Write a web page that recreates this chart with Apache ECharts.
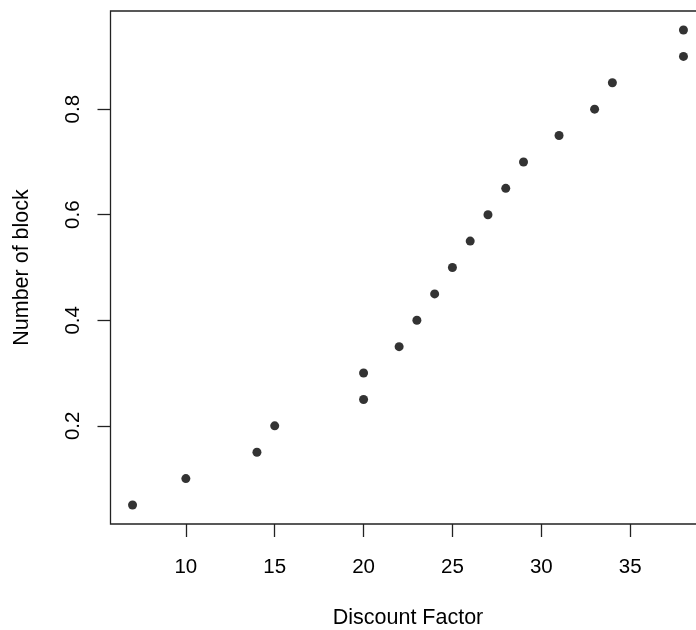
<!DOCTYPE html>
<html>
<head>
<meta charset="utf-8">
<script src="https://cdn.jsdelivr.net/npm/echarts@6/dist/echarts.min.js"></script>
<style>
  html, body { margin: 0; padding: 0; background: #fff; }
  #chart { width: 696px; height: 630px; }
</style>
</head>
<body>
<div id="chart"></div>
<script>
// Discount factor vs. number of block
const discountFactor = [7, 10, 14, 15, 20, 20, 22, 23, 24, 25, 26, 27, 28, 29, 31, 33, 34, 38, 38];
const numberOfBlock = [0.05, 0.10, 0.15, 0.20, 0.25, 0.30, 0.35, 0.40, 0.45, 0.50, 0.55, 0.60, 0.65, 0.70, 0.75, 0.80, 0.85, 0.90, 0.95];
const xTicks = [10, 15, 20, 25, 30, 35];
const yTicks = [0.2, 0.4, 0.6, 0.8];

const points = discountFactor.map((x, i) => [x, numberOfBlock[i]]);

// pad the data range by 4% on each side
function padded(arr) {
  const lo = Math.min(...arr), hi = Math.max(...arr);
  const d = (hi - lo) * 0.04;
  return [lo - d, hi + d];
}
const [xMin, xMax] = padded(discountFactor);
const [yMin, yMax] = padded(numberOfBlock);

const font = 'Liberation Sans, Arial, Helvetica, sans-serif';
const chart = echarts.init(document.getElementById('chart'), null, { renderer: 'canvas' });
chart.setOption({
  animation: false,
  backgroundColor: '#fff',
  grid: {
    left: 110.5, top: 11, width: 595, height: 513,
    outerBoundsMode: 'none', containLabel: false,
    show: true, borderColor: '#222', borderWidth: 1.3, backgroundColor: 'transparent'
  },
  xAxis: {
    type: 'value', min: xMin, max: xMax,
    name: 'Discount Factor', nameLocation: 'middle', nameGap: 83.5,
    nameTextStyle: { fontFamily: font, fontSize: 21.5, color: '#000' },
    axisLine: { show: false },
    splitLine: { show: false },
    axisTick: { show: true, length: 13, inside: false, customValues: xTicks,
      lineStyle: { color: '#222', width: 1.3 } },
    axisLabel: { customValues: xTicks, margin: 32.5, fontFamily: font, fontSize: 20.5, color: '#000' }
  },
  yAxis: {
    type: 'value', min: yMin, max: yMax,
    name: 'Number of block', nameLocation: 'middle', nameGap: 77.5, nameRotate: 90,
    nameTextStyle: { fontFamily: font, fontSize: 21.5, color: '#000' },
    axisLine: { show: false },
    splitLine: { show: false },
    axisTick: { show: true, length: 13, inside: false, customValues: yTicks,
      lineStyle: { color: '#222', width: 1.3 } },
    axisLabel: { customValues: yTicks, rotate: 90, margin: 26.7, fontFamily: font, fontSize: 20.5, color: '#000',
      formatter: v => v.toFixed(1) }
  },
  series: [{
    type: 'scatter',
    data: points,
    symbol: 'circle',
    symbolSize: 9,
    itemStyle: { color: '#000' },
    clip: false
  }]
});
</script>
</body>
</html>
